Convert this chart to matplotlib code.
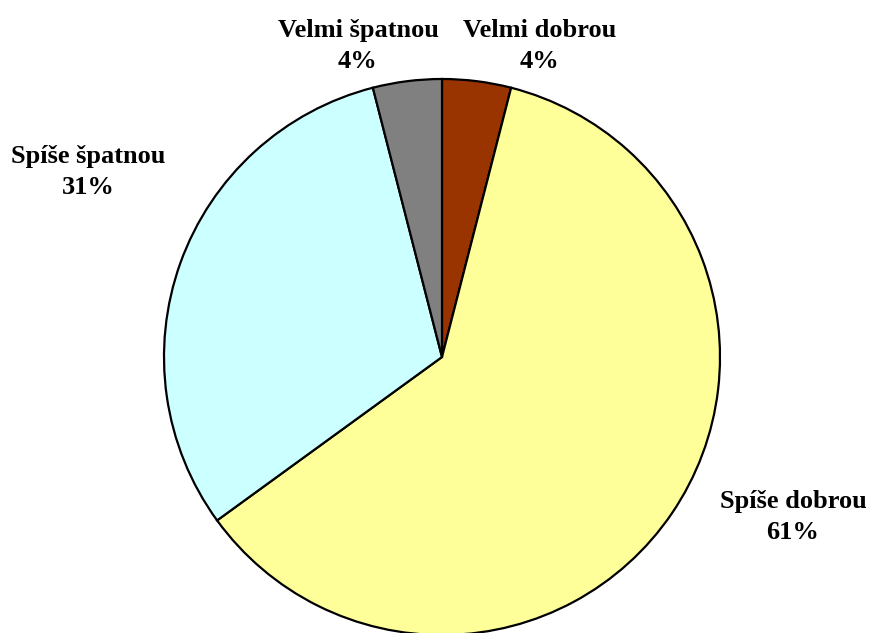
import matplotlib.pyplot as plt

# Hodnocení - podíly odpovědí (%)
labels = ["Velmi dobrou", "Spíše dobrou", "Spíše špatnou", "Velmi špatnou"]
values = [4, 61, 31, 4]
colors = ["#993300", "#FFFF99", "#CCFFFF", "#808080"]

plt.rcParams['font.family'] = ['Liberation Serif', 'DejaVu Serif']

W, H = 870, 633
cx, cy, r = 442, 357, 278  # pie centre / radius in pixels

fig = plt.figure(figsize=(W / 100, H / 100), dpi=100)
ax = fig.add_axes([0, 0, 1, 1])

wedges, _ = ax.pie(values, colors=colors, startangle=90, counterclock=False,
                   radius=1, wedgeprops=dict(edgecolor="black", linewidth=1.6))

ax.set_xlim(-cx / r, (W - cx) / r)
ax.set_ylim(-(H - cy) / r, cy / r)
ax.set_aspect("equal")
ax.axis("off")

# label positions (pixels from top-left), one per slice
label_px = [(540, 46), (793, 517), (88, 172), (358, 46)]
for lab, val, (px, py) in zip(labels, values, label_px):
    ax.text((px - cx) / r, (cy - py) / r, f"{lab}\n{val}%", ha="center",
            va="center", fontsize=19, fontweight="bold", linespacing=1.42)

fig.savefig("out.png", dpi=100)
